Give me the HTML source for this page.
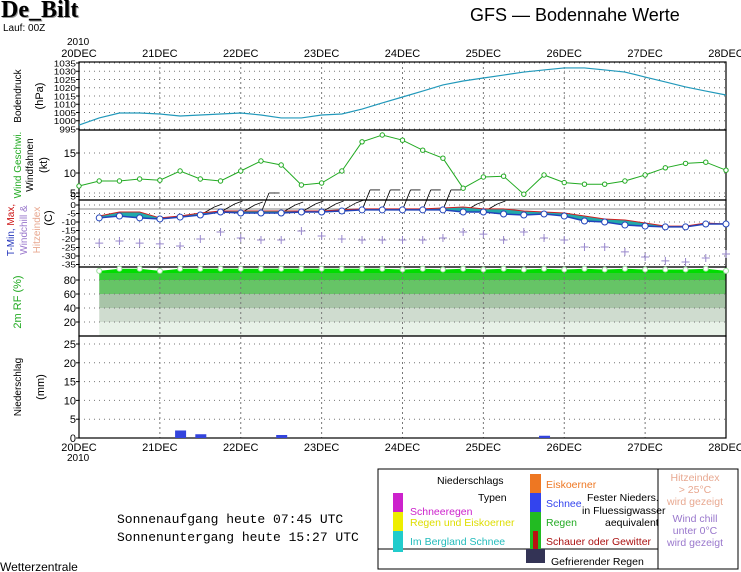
<!DOCTYPE html>
<html><head><meta charset="utf-8">
<style>
body{margin:0;background:#fff;width:741px;height:572px;overflow:hidden}
svg{display:block;font-family:"Liberation Sans",sans-serif}
</style></head>
<body>
<svg id="c" width="741" height="572" viewBox="0 0 741 572">
<text x="2" y="18" font-family="Liberation Serif,serif" font-weight="bold" font-size="24" fill="#999">De_Bilt</text>
<text x="1" y="17" font-family="Liberation Serif,serif" font-weight="bold" font-size="24" fill="#000">De_Bilt</text>
<text x="3" y="31" font-size="10">Lauf: 00Z</text>
<text x="470" y="21" font-size="18">GFS  —  Bodennahe Werte</text>
<text x="67" y="45" font-size="10">2010</text>
<text x="67" y="461" font-size="10">2010</text>
<g id="axes"></g>
<g id="legend">
<rect x="378" y="469" width="360" height="100" fill="#fff" stroke="#000"/>
<line x1="658" y1="469" x2="658" y2="569" stroke="#000"/>
<line x1="378" y1="549" x2="658" y2="549" stroke="#000"/>
<rect x="393" y="493" width="10" height="19" fill="#cc22cc"/>
<rect x="393" y="512" width="10" height="19" fill="#eeee00"/>
<rect x="393" y="531" width="10" height="21" fill="#22cccc"/>
<rect x="530" y="474" width="11" height="19" fill="#ee7722"/>
<rect x="530" y="493" width="11" height="19" fill="#3344ee"/>
<rect x="530" y="512" width="11" height="38" fill="#22bb22"/>
<rect x="533" y="531" width="5" height="18" fill="#bb1111"/>
<rect x="526" y="549" width="19" height="14" fill="#333355"/>
<g font-size="10.5">
<text x="437" y="484">Niederschlags</text>
<text x="478" y="501">Typen</text>
<text x="410" y="515" fill="#cc22cc">Schneeregen</text>
<text x="410" y="526" fill="#dddd00">Regen und Eiskoerner</text>
<text x="410" y="545" fill="#22bbbb">Im Bergland Schnee</text>
<text x="546" y="488" fill="#ee7722">Eiskoerner</text>
<text x="546" y="507" fill="#3344ee">Schnee</text>
<text x="587" y="501">Fester Nieders.</text>
<text x="582" y="514">in Fluessigwasser</text>
<text x="605" y="526">aequivalent</text>
<text x="546" y="526" fill="#22aa22">Regen</text>
<text x="546" y="545" fill="#aa1111">Schauer oder Gewitter</text>
<text x="551" y="565">Gefrierender Regen</text>
<g fill="#e8a890" text-anchor="middle"><text x="695" y="481">Hitzeindex</text><text x="695" y="493">&gt; 25°C</text><text x="695" y="505">wird gezeigt</text></g>
<g fill="#9977cc" text-anchor="middle"><text x="695" y="522">Wind chill</text><text x="695" y="534">unter 0°C</text><text x="695" y="546">wird gezeigt</text></g>
</g></g>
<text x="117" y="523" font-size="13" font-family="Liberation Mono,monospace">Sonnenaufgang heute 07:45 UTC</text>
<text x="117" y="541" font-size="13" font-family="Liberation Mono,monospace">Sonnenuntergang heute 15:27 UTC</text>
<text x="0" y="571" font-size="12">Wetterzentrale</text>
</svg>
<script>
const days=["20DEC","21DEC","22DEC","23DEC","24DEC","25DEC","26DEC","27DEC","28DEC"];
const pressure=[997.4,1001.7,1004.7,1004.7,1004.1,1002.9,1003.5,1004.1,1004.7,1003.5,1001.7,1001.7,1003.5,1004.1,1007.1,1010.8,1014.4,1018,1021.7,1024.1,1025.9,1027.7,1029.5,1030.8,1032,1032,1030.8,1029.5,1026.5,1023.5,1020.5,1018,1015.6];
const wind=[6.75,8,8,8.5,8.2,10.5,8.5,8,10.5,13,12,7,7.5,10.5,17.8,19.5,18.2,15.7,13.7,6.2,9,9.2,4.7,9.5,7.6,7.2,7.2,8,9.5,11.3,12.4,12.7,10.7];
const tmin=[-7.6,-6.5,-7.6,-8.2,-7.1,-5.9,-4.1,-4.7,-4.7,-4.7,-4.1,-4.1,-3.5,-2.9,-2.9,-2.9,-2.9,-2.9,-4.1,-4.1,-5.3,-5.9,-5.3,-6.5,-9.4,-10,-11.8,-12.4,-12.9,-12.9,-11.2,-11.2];
const tmax=[-6.5,-4.1,-4.1,-7.6,-6.5,-4.7,-3.5,-3.5,-3.5,-3.5,-3.5,-3.5,-2.9,-2.3,-2.3,-2.3,-2.3,-1.8,-1.2,-2.3,-2.3,-3.5,-4.1,-4.7,-6.5,-8.2,-8.8,-10.6,-12.4,-12.4,-10.6,-11.2];
const chill=[-22.4,-21.2,-22.4,-22.9,-24.1,-20,-15.9,-19.4,-20.6,-20.6,-15.3,-18.2,-20,-20.6,-20.6,-20.6,-20.6,-19.4,-15.9,-17.1,-20.6,-15.9,-19.4,-20.6,-24.7,-24.7,-27.6,-30.6,-32.9,-33.5,-31.2,-28.8];
const rh=[93,96,96,93,96,96,96,96,96,96,96,96,96,96,96,95,96,95,96,95,96,95,96,95,96,95,96,95,95,95,96,93];
const precipDay=[21.25,21.5,22.5,25.75];
const precipMm=[2,1,0.8,0.6];
const pTicks=[1035,1030,1025,1020,1015,1010,1005,1000,995];
const wTicks=[5,10,15];
const tTicks=[5,0,-5,-10,-15,-20,-25,-30,-35];
const rTicks=[20,40,60,80];
const nTicks=[0,5,10,15,20,25];

const NS="http://www.w3.org/2000/svg";
const g=document.getElementById('axes');
function el(t,a,p){const e=document.createElementNS(NS,t);for(const k in a)e.setAttribute(k,a[k]);(p||g).appendChild(e);return e;}
const X=d=>79+(d-20)*80.875;
const yP=p=>63+(1035-p)*1.65, yW=k=>213-4*k, yT=t=>205-1.7*t, yR=r=>336-0.7*r, yN=n=>438-3.76*n;
const L=79,R=726;
const bands=[[0,20,'#e8f2e8'],[20,40,'#cfdccf'],[40,60,'#a8c4a8'],[60,80,'#66c466'],[80,90,'#33cc33'],[90,100,'#00dd00']];
const defs=el('defs',{});
const cp=el('clipPath',{id:'rhclip'},defs);
let dpath='M'+X(20.25)+' '+yR(0);
rh.forEach((v,i)=>dpath+=' L'+X(20.25+i*0.25)+' '+yR(v));
dpath+=' L'+X(28)+' '+yR(0)+'Z';
el('path',{d:dpath},cp);
const rg=el('g',{'clip-path':'url(#rhclip)'});


bands.forEach(b=>el('rect',{x:L,y:yR(b[1]),width:R-L,height:yR(b[0])-yR(b[1]),fill:b[2]},rg));
function hgrid(vals,f){vals.forEach(v=>el('line',{x1:L,x2:R,y1:f(v),y2:f(v),stroke:'#777','stroke-dasharray':'1,4','stroke-width':1}));}
hgrid(pTicks,yP);hgrid(wTicks,yW);hgrid(tTicks,yT);hgrid(rTicks,yR);hgrid(nTicks.slice(1),yN);
for(let d=21;d<28;d++)el('line',{x1:X(d),x2:X(d),y1:62,y2:438,stroke:'#777','stroke-dasharray':'2,3'});
el('line',{x1:L,x2:R,y1:yT(0)+4,y2:yT(0)+4,stroke:'#888'});
[[62,130],[130,200],[200,267],[267,336],[336,438]].forEach(p=>el('rect',{x:L,y:p[0],width:R-L,height:p[1]-p[0],fill:'none',stroke:'#000','stroke-width':1.2}));
function labels(vals,f,fs,sy){vals.forEach(v=>{const t=el('text',{x:76,y:f(v)+4,'font-size':fs,'text-anchor':'end',transform:sy?`translate(0,${f(v)}) scale(1,${sy}) translate(0,${-f(v)})`:''});t.textContent=v;el('line',{x1:L-3,x2:L,y1:f(v),y2:f(v),stroke:'#000'});});}
labels(pTicks,yP,10,0.85);labels(wTicks,yW,11);labels(tTicks,yT,10,0.8);labels(rTicks,yR,11);labels(nTicks,yN,11);
days.forEach((d,i)=>{const a=el('text',{x:X(20+i),y:57,'font-size':11,'text-anchor':'middle'});a.textContent=d;


const b=el('text',{x:X(20+i),y:451,'font-size':11,'text-anchor':'middle'});b.textContent=d;

});
function vt(x,y,txt,col,fs){const t=el('text',{x:x,y:y,'font-size':fs||10,fill:col||'#000','text-anchor':'middle',transform:`rotate(-90 ${x} ${y})`});t.textContent=txt;return t;}
vt(21,96,'Bodendruck');vt(43,96,'(hPa)','#000',11);
vt(21,165,'Wind Geschwi.','#22aa22');vt(33,165,'Windfahnen');vt(47,165,'(kt)','#000',11);
const tt=el('text',{x:14,y:230,'font-size':10,'text-anchor':'middle',transform:'rotate(-90 14 230)'});
tt.innerHTML='<tspan fill="#2233bb">T-Min, </tspan><tspan fill="#cc1111">Max,</tspan>';
vt(27,230,'Windchill &','#9977cc');vt(40,230,'Hitzeindex','#e8a890');vt(52,218,'(C)','#000',11);
vt(21,302,'2m RF (%)','#22aa22',11);
vt(21,387,'Niederschlag');vt(44,387,'(mm)','#000',11);
const pp=el('polyline',{points:pressure.map((v,i)=>X(20+i*0.25)+','+yP(v)).join(' '),fill:'none',stroke:'#2299bb','stroke-width':1.2});


const wl=el('polyline',{points:wind.map((v,i)=>X(20+i*0.25)+','+yW(v)).join(' '),fill:'none',stroke:'#22aa22','stroke-width':1});


wind.forEach((v,i)=>{const c=el('circle',{cx:X(20+i*0.25),cy:yW(v),r:2.2,fill:'#fff',stroke:'#22aa22'});

});
// wind barbs (only shown 21.5 - 25.0)
wind.forEach((v,i)=>{const d=20+i*0.25;if(d<21.5||d>25)return;const x=X(d),y=yT(tmin[i-1]||0);
const bx=x+(v>12?8:14),by=y-(v>12?20:8);
el('line',{x1:x,y1:y,x2:bx,y2:by,stroke:'#000','stroke-width':0.8});
el('line',{x1:bx,y1:by,x2:bx+(v>12?10:8),y2:by-(v>12?0:3),stroke:'#000','stroke-width':0.8});});
let tp='';tmax.forEach((v,i)=>tp+=(i?' L':'M')+X(20.25+i*0.25)+' '+yT(v));
for(let i=tmin.length-1;i>=0;i--)tp+=' L'+X(20.25+i*0.25)+' '+yT(tmin[i]);
const tf=el('path',{d:tp+'Z',fill:'#22aaaa'});


const mx=el('polyline',{points:tmax.map((v,i)=>X(20.25+i*0.25)+','+yT(v)).join(' '),fill:'none',stroke:'#cc2222','stroke-width':1});


const mn=el('polyline',{points:tmin.map((v,i)=>X(20.25+i*0.25)+','+yT(v)).join(' '),fill:'none',stroke:'#2244bb','stroke-width':1.5});


tmin.forEach((v,i)=>{const c=el('circle',{cx:X(20.25+i*0.25),cy:yT(v),r:3,fill:'#fff',stroke:'#2244bb'});

});
chill.forEach((v,i)=>{const x=X(20.25+i*0.25),y=yT(v);const c=el('path',{d:`M${x-4} ${y}H${x+4}M${x} ${y-4}V${y+4}`,stroke:'#9988cc','stroke-width':1});

});
rh.forEach((v,i)=>{const c=el('circle',{cx:X(20.25+i*0.25),cy:yR(v),r:2.5,fill:'#fff',stroke:'#99dd99'});

});
precipDay.forEach((d,i)=>{const b=el('rect',{x:X(d)-5,y:yN(precipMm[i]),width:11,height:yN(0)-yN(precipMm[i]),fill:'#3344dd'});

});
</script>
</body></html>
